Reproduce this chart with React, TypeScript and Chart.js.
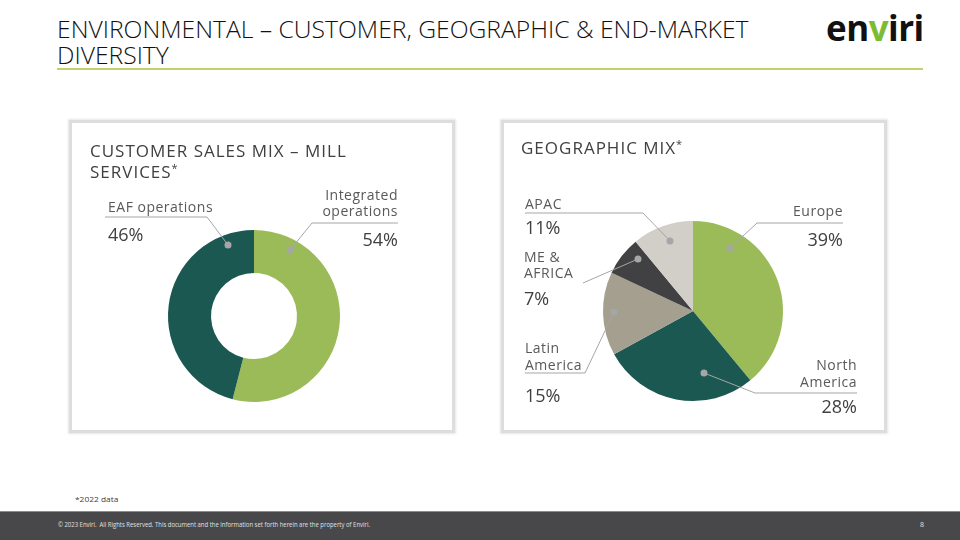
import React, { useEffect, useLayoutEffect, useRef, useState } from 'react';
import { Chart, registerables } from 'chart.js';

Chart.register(...registerables);

// ---------- data ----------
const millCategories = ['Integrated operations', 'EAF operations'];
const millValues = [54, 46];
const millLabelLines = [['Integrated', 'operations'], ['EAF operations']];
const millColors = ['#9BBB59', '#1B5852'];

const geoCategories = ['Europe', 'North America', 'Latin America', 'ME & AFRICA', 'APAC'];
const geoValues = [39, 28, 15, 7, 11];
const geoLabelLines = [['Europe'], ['North', 'America'], ['Latin', 'America'], ['ME &', 'AFRICA'], ['APAC']];
const geoColors = ['#9BBB59', '#1B5852', '#A59F90', '#414143', '#D2CEC8'];

// ---------- callout layout (relative to pie centre) ----------
type Callout = {
  align: 'left' | 'right';
  tx: number;
  nameY: number[];
  lineY: number;
  x1: number;
  x2: number;
  elbowX: number;
  dot: [number, number];
  pctY: number;
};

const millLayout: Callout[] = [
  { align: 'right', tx: 144, nameY: [-116.5, -100.5], lineY: -93, x1: 58, x2: 144, elbowX: 58, dot: [36, -66], pctY: -70 },
  { align: 'left', tx: -146, nameY: [-103.7], lineY: -99, x1: -149, x2: -47, elbowX: -47, dot: [-26, -71], pctY: -75.3 },
];

const geoLayout: Callout[] = [
  { align: 'right', tx: 150, nameY: [-95.3], lineY: -88, x1: 64, x2: 150, elbowX: 64, dot: [37, -63], pctY: -65 },
  { align: 'right', tx: 164, nameY: [59, 75.7], lineY: 82, x1: 62, x2: 164, elbowX: 62, dot: [11, 62], pctY: 102 },
  { align: 'left', tx: -168, nameY: [42.3, 59], lineY: 62, x1: -168, x2: -108, elbowX: -108, dot: [-79, 1], pctY: 90.7 },
  { align: 'left', tx: -169, nameY: [-49.3, -32.7], lineY: -28, x1: -110, x2: -110, elbowX: -110, dot: [-55, -52], pctY: -6 },
  { align: 'left', tx: -168, nameY: [-101.7], lineY: -98, x1: -168, x2: -50, elbowX: -50, dot: [-23, -70], pctY: -77 },
];

const FONT = '"Open Sans", "Noto Sans", sans-serif';

const calloutPlugin = {
  id: 'callouts',
  afterDraw(chart: any, _args: any, opts: any) {
    const ctx = chart.ctx as CanvasRenderingContext2D;
    const meta = chart.getDatasetMeta(0);
    const arc = meta.data[0];
    if (!arc) return;
    const cx = arc.x;
    const cy = arc.y;
    const values = chart.data.datasets[0].data as number[];
    const layout: Callout[] = opts.layout;
    const names: string[][] = opts.names;
    ctx.save();
    // panel title
    const t = opts.title;
    ctx.fillStyle = '#404040';
    ctx.textAlign = 'left';
    ctx.textBaseline = 'alphabetic';
    (ctx as any).letterSpacing = '1px';
    t.lines.forEach((ln: string, k: number) => {
      ctx.font = `400 17px ${FONT}`;
      ctx.fillText(ln, t.x, t.y[k]);
      if (t.star && k === t.lines.length - 1) {
        const w = ctx.measureText(ln).width;
        ctx.font = `400 11px ${FONT}`;
        ctx.fillText('*', t.x + w, t.y[k] - 6);
      }
    });
    layout.forEach((L, i) => {
      // leader line
      ctx.strokeStyle = '#A6A6A6';
      ctx.lineWidth = 1;
      ctx.beginPath();
      ctx.moveTo(cx + L.dot[0], cy + L.dot[1]);
      ctx.lineTo(cx + L.elbowX, cy + L.lineY);
      const farX = L.elbowX === L.x1 ? L.x2 : L.x1;
      ctx.lineTo(cx + farX, cy + L.lineY);
      ctx.stroke();
      ctx.fillStyle = '#A6A6A6';
      ctx.beginPath();
      ctx.arc(cx + L.dot[0], cy + L.dot[1], 3.5, 0, Math.PI * 2);
      ctx.fill();
      // texts
      ctx.textAlign = L.align;
      (ctx as any).letterSpacing = '0.5px';
      ctx.font = `400 14px ${FONT}`;
      ctx.fillStyle = '#595959';
      names[i].forEach((ln, k) => ctx.fillText(ln, cx + L.tx, cy + L.nameY[k]));
      (ctx as any).letterSpacing = '0px';
      ctx.font = `400 18px ${FONT}`;
      ctx.fillStyle = '#404040';
      ctx.fillText(`${values[i]}%`, cx + L.tx, cy + L.pctY);
    });
    ctx.restore();
  },
};

type CardProps = {
  left: number;
  top: number;
  type: 'pie' | 'doughnut';
  labels: string[];
  values: number[];
  colors: string[];
  cutout: string | number;
  padding: { left: number; right: number; top: number; bottom: number };
  layout: Callout[];
  names: string[][];
  title: { lines: string[]; x: number; y: number[]; star: boolean };
};

function PieCard(p: CardProps) {
  const ref = useRef<HTMLCanvasElement>(null);
  useEffect(() => {
    const chart = new Chart(ref.current as HTMLCanvasElement, {
      type: p.type,
      data: {
        labels: p.labels,
        datasets: [{ data: p.values, backgroundColor: p.colors, borderWidth: 0, hoverOffset: 0 }],
      },
      options: {
        responsive: false,
        animation: false,
        events: [],
        cutout: p.cutout,
        layout: { padding: p.padding },
        plugins: {
          legend: { display: false },
          tooltip: { enabled: false },
          callouts: { layout: p.layout, names: p.names, title: p.title },
        },
      } as any,
      plugins: [calloutPlugin],
    });
    return () => chart.destroy();
  }, []);
  return (
    <div
      style={{
        position: 'absolute',
        left: p.left - 3,
        top: p.top - 3,
        width: 386,
        height: 313,
        boxSizing: 'border-box',
        border: '3px solid #DDDDDD',
        boxShadow: '0 0 2px 1px rgba(0,0,0,0.10)',
        background: '#fff',
      }}
    >
      <canvas ref={ref} width={380} height={307} style={{ display: 'block' }} />
    </div>
  );
}

function FitText({ width, style, children }: { width: number; style?: React.CSSProperties; children: React.ReactNode }) {
  const ref = useRef<HTMLSpanElement>(null);
  const [s, setS] = useState(1);
  useLayoutEffect(() => {
    const w = ref.current ? ref.current.offsetWidth : 0;
    if (w) setS(width / w);
  }, []);
  return (
    <span
      ref={ref}
      style={{ display: 'inline-block', whiteSpace: 'nowrap', transform: `scaleX(${s})`, transformOrigin: 'left top', ...style }}
    >
      {children}
    </span>
  );
}

function SlideTitle() {
  const ref = useRef<HTMLSpanElement>(null);
  const [s, setS] = useState(1);
  useLayoutEffect(() => {
    const w = ref.current ? ref.current.offsetWidth : 0;
    if (w) setS(691 / w);
  }, []);
  const lineStyle: React.CSSProperties = {
    display: 'inline-block',
    whiteSpace: 'nowrap',
    transform: `scaleX(${s})`,
    transformOrigin: 'left top',
  };
  return (
    <div
      style={{
        position: 'absolute',
        left: 57,
        top: 16,
        fontFamily: FONT,
        fontWeight: 300,
        fontSize: 24,
        lineHeight: '26px',
        color: '#111',
      }}
    >
      <div>
        <span ref={ref} style={lineStyle}>ENVIRONMENTAL – CUSTOMER, GEOGRAPHIC &amp; END-MARKET</span>
      </div>
      <div>
        <span style={lineStyle}>DIVERSITY</span>
      </div>
    </div>
  );
}

export default function App() {
  useEffect(() => {
    document.body.style.margin = '0';
  }, []);
  return (
    <div style={{ position: 'relative', width: 960, height: 540, overflow: 'hidden', background: '#fff', fontFamily: FONT }}>
      <SlideTitle />
      <div style={{ position: 'absolute', left: 826, top: 8, fontFamily: FONT, fontWeight: 700, fontSize: 36, lineHeight: '40px', color: '#111' }}>
        <FitText width={98} style={{ letterSpacing: '-0.5px' }}>
          en<span style={{ color: '#7DBB33' }}>v</span>iri
        </FitText>
      </div>
      <div style={{ position: 'absolute', left: 57, top: 68, width: 866, height: 2, background: '#C3D169' }} />

      <PieCard
        left={72}
        top={123}
        type="doughnut"
        labels={millCategories}
        values={millValues}
        colors={millColors}
        cutout="50%"
        padding={{ left: 96, right: 112, top: 107, bottom: 28 }}
        layout={millLayout}
        names={millLabelLines}
        title={{ lines: ['CUSTOMER SALES MIX – MILL', 'SERVICES'], x: 18, y: [33.7, 55.3], star: true }}
      />
      <PieCard
        left={504}
        top={123}
        type="pie"
        labels={geoCategories}
        values={geoValues}
        colors={geoColors}
        cutout={0}
        padding={{ left: 99, right: 101, top: 98, bottom: 29 }}
        layout={geoLayout}
        names={geoLabelLines}
        title={{ lines: ['GEOGRAPHIC MIX'], x: 17, y: [31.3], star: true }}
      />

      <div style={{ position: 'absolute', left: 75, top: 494, fontSize: 8, lineHeight: '10px', color: '#404040' }}>
        <FitText width={43}>*2022 data</FitText>
      </div>

      <div style={{ position: 'absolute', left: 0, top: 511, width: 960, height: 29, background: '#48484A', borderTop: '1px solid #8C8C8C', boxSizing: 'border-box' }} />
      <div style={{ position: 'absolute', left: 58, top: 520, fontSize: 7, lineHeight: '10px', color: '#E0E0E0' }}>
        <FitText width={312}>
          © 2023 Enviri.&nbsp; All Rights Reserved. This document and the information set forth herein are the property of Enviri.
        </FitText>
      </div>
      <div style={{ position: 'absolute', left: 920, top: 520, fontSize: 7, lineHeight: '10px', color: '#E0E0E0' }}>8</div>
    </div>
  );
}
